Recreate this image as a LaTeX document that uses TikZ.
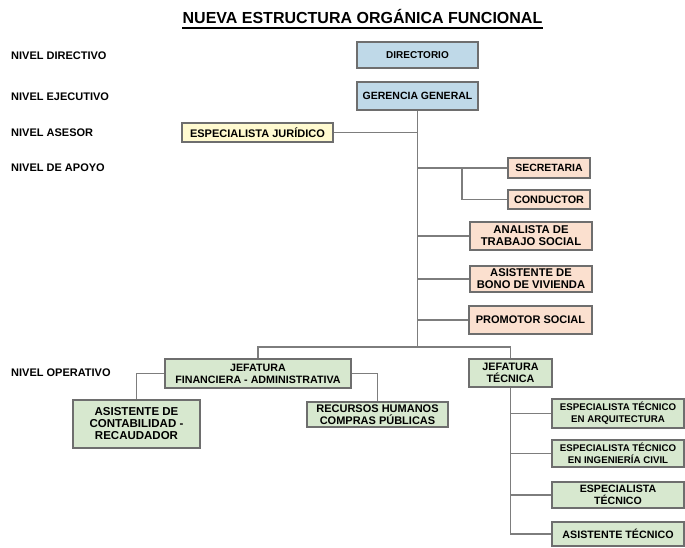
\documentclass[tikz,border=0pt]{standalone}
\usepackage{fontspec}
\setmainfont{Liberation Sans}
\definecolor{bluefill}{RGB}{191,217,232}
\definecolor{peachfill}{RGB}{251,224,207}
\definecolor{greenfill}{RGB}{215,232,207}
\definecolor{yellowfill}{RGB}{255,250,208}
\definecolor{boxline}{RGB}{110,110,110}
\definecolor{connline}{RGB}{125,125,125}
\newcommand{\fs}[1]{\fontsize{#1}{12}\selectfont}
\tikzset{
  box/.style={draw=boxline, line width=1.3pt, rectangle, inner sep=0pt, align=center, font=\bfseries},
  bluebox/.style={box, fill=bluefill},
  peachbox/.style={box, fill=peachfill},
  greenbox/.style={box, fill=greenfill},
  yellowbox/.style={box, fill=yellowfill},
  lvl/.style={anchor=west, inner sep=0pt, font=\bfseries\fs{11}},
  conn/.style={draw=connline, line width=1.2pt}
}
\begin{document}
\begin{tikzpicture}[x=1pt,y=-1pt]
\useasboundingbox[fill=white] (0,0) rectangle (685,547);
% title
\node[inner sep=0pt, font=\bfseries\fontsize{16}{18}\selectfont] (title) at (362.5,16.5) {NUEVA ESTRUCTURA ORGÁNICA FUNCIONAL};
\draw[line width=1.3pt] ([yshift=-4pt]title.south west) -- ([yshift=-4pt]title.south east);
% level labels
\node[lvl] (l1) at (11,56) {NIVEL DIRECTIVO};
\node[lvl] (l2) at (11,97) {NIVEL EJECUTIVO};
\node[lvl] (l3) at (11,133) {NIVEL ASESOR};
\node[lvl] (l4) at (11,168) {NIVEL DE APOYO};
\node[lvl] (l5) at (11,373) {NIVEL OPERATIVO};
% boxes
\node[bluebox, minimum width=121pt, minimum height=26pt, font=\bfseries\fs{10}] (dir) at (417.5,55) {DIRECTORIO};
\node[bluebox, minimum width=121pt, minimum height=28pt, font=\bfseries\fs{10.5}] (ger) at (417.5,96) {GERENCIA GENERAL};
\node[yellowbox, minimum width=151pt, minimum height=19pt, font=\bfseries\fs{11}] (jur) at (257.5,132.5) {ESPECIALISTA JURÍDICO};
\node[peachbox, minimum width=82pt, minimum height=20pt, font=\bfseries\fs{10.5}] (sec) at (549,168) {SECRETARIA};
\node[peachbox, minimum width=82pt, minimum height=19pt, font=\bfseries\fs{10.8}] (con) at (549,199.5) {CONDUCTOR};
\node[peachbox, minimum width=122pt, minimum height=28pt, font=\bfseries\fs{11.3}] (ana) at (531,236) {ANALISTA DE\\TRABAJO SOCIAL};
\node[peachbox, minimum width=122pt, minimum height=26pt, font=\bfseries\fs{11.2}] (bono) at (531,279) {ASISTENTE DE\\BONO DE VIVIENDA};
\node[peachbox, minimum width=123pt, minimum height=28pt, font=\bfseries\fs{11}] (prom) at (530.5,320) {PROMOTOR SOCIAL};
\node[greenbox, minimum width=186pt, minimum height=29pt, font=\bfseries\fs{10.7}] (jf) at (258,373.5) {JEFATURA\\FINANCIERA - ADMINISTRATIVA};
\node[greenbox, minimum width=83pt, minimum height=28pt, font=\bfseries\fs{10.8}] (jt) at (510.5,373) {JEFATURA\\TÉCNICA};
\node[greenbox, minimum width=127pt, minimum height=48pt, font=\bfseries\fs{11.5}] (acont) at (136.5,424) {ASISTENTE DE\\CONTABILIDAD -\\RECAUDADOR};
\node[greenbox, minimum width=141pt, minimum height=25pt, font=\bfseries\fs{11}] (rrhh) at (377.5,414.5) {RECURSOS HUMANOS\\COMPRAS PÚBLICAS};
\node[greenbox, minimum width=132pt, minimum height=29pt, font=\bfseries\fs{9.7}] (ea) at (618,413.5) {ESPECIALISTA TÉCNICO\\EN ARQUITECTURA};
\node[greenbox, minimum width=132pt, minimum height=27pt, font=\bfseries\fs{9.7}] (eic) at (618,453.5) {ESPECIALISTA TÉCNICO\\EN INGENIERÍA CIVIL};
\node[greenbox, minimum width=132pt, minimum height=26pt, font=\bfseries\fs{10.6}] (et) at (618,495) {ESPECIALISTA\\TÉCNICO};
\node[greenbox, minimum width=132pt, minimum height=24pt, font=\bfseries\fs{10.7}] (at) at (618,534) {ASISTENTE TÉCNICO};
% connectors
\coordinate (bus) at (417.5,347);
\coordinate (sj) at (462,168);
\draw[conn] (ger.south) -- (bus);
\draw[conn] (jf.north) |- (bus) -| (jt.north);
\draw[conn] (jur.east) -- (jur.east -| bus);
\draw[conn] (sec.west) -- (sec.west -| bus);
\draw[conn] (sj) |- (con.west);
\draw[conn] (ana.west) -- (ana.west -| bus);
\draw[conn] (bono.west) -- (bono.west -| bus);
\draw[conn] (prom.west) -- (prom.west -| bus);
\draw[conn] (jf.west) -| (acont.north);
\draw[conn] (jf.east) -| (rrhh.north);
\draw[conn] (jt.south) |- (at.west);
\draw[conn] (ea.west) -| (jt.south);
\draw[conn] (eic.west) -| (jt.south);
\draw[conn] (et.west) -| (jt.south);
\end{tikzpicture}
\end{document}
